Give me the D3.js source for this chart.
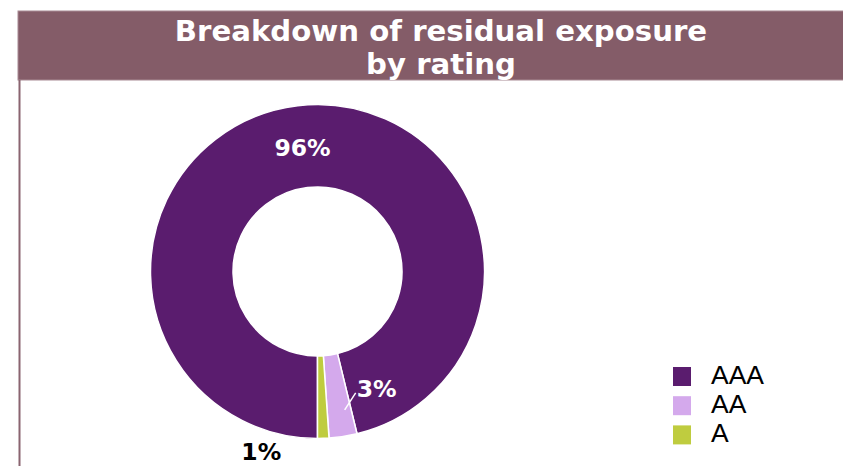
<!DOCTYPE html>
<html><head><meta charset="utf-8">
<script src="https://cdn.jsdelivr.net/npm/d3@7"></script>
<style>html,body{margin:0;padding:0;background:#fff;overflow:hidden}</style>
</head><body>
<svg id="chart" width="843" height="466"></svg>
<script>
const categories = ["AAA", "AA", "A"];
const values = [96.2, 2.7, 1.1];
const labels = ["96%", "3%", "1%"];
const colors = ["#5a1c6e", "#d4a9ec", "#bfcc3f"];
const titleLines = ["Breakdown of residual exposure", "by rating"];

const svg = d3.select("#chart");
// title bar
svg.append("rect").attr("x", 18).attr("y", 11).attr("width", 830).attr("height", 69)
  .attr("fill", "#845c68").attr("stroke", "#a88a93").attr("stroke-width", 1);
svg.append("line").attr("x1", 19.5).attr("x2", 19.5).attr("y1", 80).attr("y2", 466)
  .attr("stroke", "#8a6470").attr("stroke-width", 2);
svg.append("text").attr("x", 440).attr("y", 41).attr("text-anchor", "middle")
  .attr("font-family", "DejaVu Sans").attr("font-weight", "bold").attr("font-size", 29.2)
  .attr("fill", "#fff")
  .selectAll("tspan").data(titleLines).join("tspan")
  .attr("x", 441).attr("dy", (d, i) => i ? 33 : 0).text(d => d);

const cx = 317.5, cy = 271.5, rOut = 167, rIn = 84.5;
const g = svg.append("g").attr("transform", `translate(${cx},${cy})`);
const pie = d3.pie().sort(null).startAngle(Math.PI).endAngle(3 * Math.PI);
const arcs = pie(values);
const arc = d3.arc().innerRadius(rIn).outerRadius(rOut);
g.selectAll("path").data(arcs).join("path")
  .attr("d", arc).attr("fill", (d, i) => colors[i])
  .attr("stroke", "#fff").attr("stroke-width", 1.5);

const mid = d => (d.startAngle + d.endAngle) / 2;
const pt = (a, r) => [r * Math.sin(a), -r * Math.cos(a)];
const lblFont = g => g.attr("font-family", "DejaVu Sans").attr("font-weight", "bold").attr("font-size", 23.5);

// AAA label inside
const c0 = pt(mid(arcs[0]), (rIn + rOut) / 2);
g.append("text").call(lblFont).attr("x", c0[0]).attr("y", c0[1] + 9)
  .attr("text-anchor", "middle").attr("fill", "#fff").text(labels[0]);

// AA label with leader
const a1 = pt(mid(arcs[1]) - 0.04, 141);
g.append("line").attr("x1", a1[0]).attr("y1", a1[1]).attr("x2", a1[0] + 11).attr("y2", a1[1] - 17)
  .attr("stroke", "#fff").attr("stroke-width", 1.5);
g.append("text").call(lblFont).attr("x", a1[0] + 12).attr("y", a1[1] - 13)
  .attr("text-anchor", "start").attr("fill", "#fff").text(labels[1]);

// A label outside
const a2 = pt(mid(arcs[2]), rOut);
g.append("text").call(lblFont).attr("x", a2[0] - 62).attr("y", a2[1] + 21.5)
  .attr("text-anchor", "middle").attr("fill", "#000").text(labels[2]);

// legend
const leg = svg.append("g").attr("transform", "translate(673,367)");
const items = leg.selectAll("g").data(categories).join("g")
  .attr("transform", (d, i) => `translate(0,${i * 29.2})`);
items.append("rect").attr("width", 18).attr("height", 19).attr("fill", (d, i) => colors[i]);
items.append("text").attr("x", 38).attr("y", 16.5)
  .attr("font-family", "Liberation Sans, Arial, sans-serif").attr("font-size", 26.5)
  .attr("fill", "#000").text(d => d);
</script>
</body></html>
